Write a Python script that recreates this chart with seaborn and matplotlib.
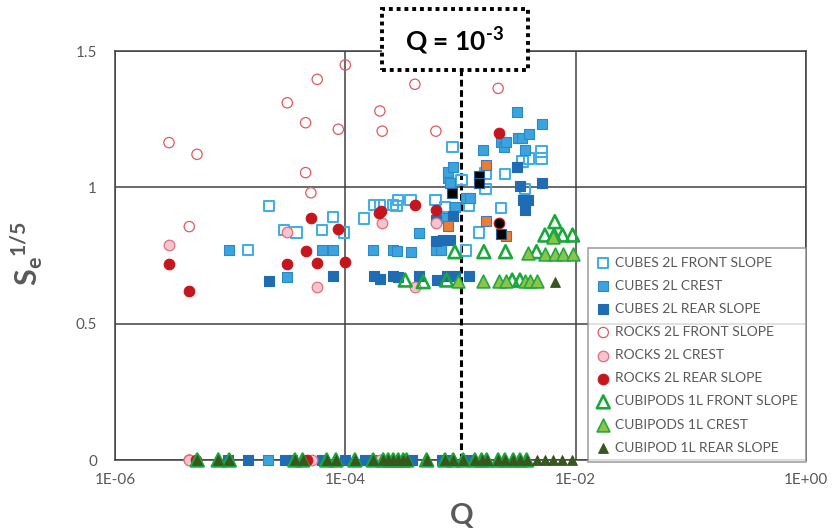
import numpy as np
import pandas as pd
import matplotlib
matplotlib.use("Agg")
import matplotlib.pyplot as plt
from matplotlib.patches import Rectangle
import seaborn as sns

# ---- data: log10(Q) and Se^(1/5) per test series ----
cubes_front_logq = [-4.843, -4.663, -4.530, -4.423, -4.200, -4.105, -4.012, -3.836, -3.749, -3.700,
                    -3.584, -3.555, -3.541, -3.434, -3.217, -3.135, -3.069, -2.991, -2.950, -2.927,
                    -2.838, -2.782, -2.782, -2.649, -2.615, -2.461, -2.441, -2.406, -2.296, -2.296]
cubes_front_se = [0.769, 0.931, 0.843, 0.834, 0.843, 0.892, 0.834, 0.886, 0.935, 0.935,
                  0.935, 0.931, 0.953, 0.953, 0.953, 0.929, 1.147, 1.027, 0.768, 0.931,
                  0.834, 0.994, 1.051, 0.925, 1.049, 1.095, 0.994, 1.106, 1.131, 1.106]

cubes_crest_logq = [-5.010, -4.669, -4.504, -4.200, -4.105, -3.758, -3.584, -3.549, -3.434, -3.358,
                    -3.217, -3.165, -3.144, -3.110, -3.107, -3.095, -3.069, -3.049, -2.948, -2.920,
                    -2.806, -2.649, -2.618, -2.609, -2.513, -2.499, -2.470, -2.438, -2.409, -2.296]
cubes_crest_se = [0.769, 0.0, 0.670, 0.769, 0.769, 0.770, 0.770, 0.768, 0.762, 0.834,
                  0.770, 0.770, 0.886, 1.033, 1.057, 1.015, 1.073, 0.927, 0.960, 0.960,
                  1.136, 1.167, 1.149, 1.167, 1.276, 1.180, 1.180, 1.136, 1.194, 1.232]

cubes_rear_logq = [-5.016, -4.843, -4.663, -4.524, -4.466, -4.206, -4.105, -4.003, -3.830, -3.772,
                   -3.749, -3.700, -3.584, -3.541, -3.424, -3.358, -3.217, -3.217, -3.208, -3.164,
                   -3.150, -3.121, -3.107, -3.092, -3.069, -3.049, -2.933, -2.927, -2.513, -2.484,
                   -2.461, -2.441, -2.412, -2.296]
cubes_rear_se = [0.0, 0.0, 0.658, 0.0, 0.0, 0.0, 0.676, 0.0, 0.0, 0.0,
                 0.676, 0.664, 0.676, 0.672, 0.0, 0.676, 0.880, 0.804, 0.660, 0.0,
                 0.807, 0.676, 0.0, 0.807, 0.895, 0.676, 0.0, 0.676, 1.073, 1.006,
                 0.953, 0.917, 0.953, 1.015]

rocks_front_logq = [-5.531, -5.355, -5.355, -5.288, -4.504, -4.345, -4.345, -4.299, -4.244, -4.061,
                    -4.000, -3.700, -3.680, -3.396, -3.214, -2.673]
rocks_front_se = [1.164, 0.856, 0.0, 1.121, 1.310, 1.237, 1.054, 0.980, 1.396, 1.213,
                  1.449, 1.280, 1.206, 1.378, 1.206, 1.363]

rocks_crest_logq = [-5.531, -5.355, -4.504, -4.293, -4.244, -3.700, -3.682, -3.396, -3.211]
rocks_crest_se = [0.790, 0.0, 0.837, 0.0, 0.633, 0.0, 0.870, 0.636, 0.870]

rocks_rear_logq = [-5.531, -5.355, -5.297, -4.504, -4.345, -4.336, -4.299, -4.244, -4.061, -4.000,
                   -3.706, -3.691, -3.393, -3.211, -2.669]
rocks_rear_se = [0.717, 0.621, 0.0, 0.717, 0.765, 0.0, 0.886, 0.724, 0.847, 0.725,
                 0.905, 0.914, 0.934, 0.918, 1.198]

# cubipod tests with no damage (Se = 0)
cubipod_zero_logq = [-5.286, -5.103, -5.008, -4.438, -4.371, -4.162, -4.082, -3.917, -3.758, -3.671,
                     -3.628, -3.584, -3.541, -3.497, -3.468, -3.294, -3.135, -3.063, -2.977, -2.875,
                     -2.817, -2.773, -2.673, -2.615, -2.542, -2.484, -2.426]

cubipods_front_logq = [-3.480, -3.324, -3.121, -3.049, -2.797, -2.609, -2.551, -2.484, -2.340, -2.267,
                       -2.187, -2.181, -2.114, -2.027] + cubipod_zero_logq
cubipods_front_se = [0.660, 0.654, 0.660, 0.764, 0.764, 0.764, 0.660, 0.660, 0.764, 0.825,
                     0.825, 0.874, 0.825, 0.825] + [0.0] * len(cubipod_zero_logq)

cubipods_crest_logq = [-3.020, -2.803, -2.664, -2.606, -2.441, -2.412, -2.398, -2.340, -2.267, -2.195,
                       -2.181, -2.109, -2.027]
cubipods_crest_se = [0.657, 0.657, 0.657, 0.657, 0.657, 0.758, 0.657, 0.657, 0.755, 0.819,
                     0.755, 0.755, 0.755]

cubipod_rear_logq = [-2.181] + cubipod_zero_logq + [-2.339, -2.267, -2.195, -2.122, -2.036]
cubipod_rear_se = [0.652] + [0.0] * len(cubipod_zero_logq) + [0.0, 0.0, 0.0, 0.0, 0.0]

# highlighted tests (not in the legend)
orange_logq = [-3.112, -2.782, -2.782, -2.609]
orange_se = [0.858, 1.082, 0.876, 0.823]
black_sq_logq = [-3.078, -2.838, -2.838, -2.649]
black_sq_se = [0.980, 1.041, 1.015, 0.829]
black_ci_logq = [-2.669]
black_ci_se = [0.871]

x_ticks = [1e-6, 1e-4, 1e-2, 1.0]
x_tick_labels = ["1E-06", "1E-04", "1E-02", "1E+00"]
y_ticks = [0, 0.5, 1, 1.5]
y_tick_labels = ["0", "0.5", "1", "1.5"]
q_threshold = 1e-3

# ---- long-form table ----
series = [
    ("CUBES 2L FRONT SLOPE", cubes_front_logq, cubes_front_se),
    ("CUBES 2L CREST", cubes_crest_logq, cubes_crest_se),
    ("CUBES 2L REAR SLOPE", cubes_rear_logq, cubes_rear_se),
    ("ROCKS 2L FRONT SLOPE", rocks_front_logq, rocks_front_se),
    ("ROCKS 2L CREST", rocks_crest_logq, rocks_crest_se),
    ("ROCKS 2L REAR SLOPE", rocks_rear_logq, rocks_rear_se),
    ("CUBIPODS 1L FRONT SLOPE", cubipods_front_logq, cubipods_front_se),
    ("CUBIPODS 1L CREST", cubipods_crest_logq, cubipods_crest_se),
    ("CUBIPOD 1L REAR SLOPE", cubipod_rear_logq, cubipod_rear_se),
    ("orange", orange_logq, orange_se),
    ("black_sq", black_sq_logq, black_sq_se),
    ("black_ci", black_ci_logq, black_ci_se),
]
frames = [pd.DataFrame({"series": name, "Q": 10.0 ** np.array(lq), "Se": se})
          for name, lq, se in series]
df = pd.concat(frames, ignore_index=True)

# marker, size, face, edge, linewidth, in legend
styles = {
    "CUBES 2L FRONT SLOPE": ("s", 55, "none", "#45ADE6", 1.5, True),
    "CUBES 2L CREST": ("s", 58, "#3BA3DE", "#2A8AC8", 0.8, True),
    "CUBES 2L REAR SLOPE": ("s", 58, "#1F6CB5", "#1F6CB5", 0.8, True),
    "ROCKS 2L FRONT SLOPE": ("o", 55, "none", "#DE5A5F", 0.9, True),
    "ROCKS 2L CREST": ("o", 58, "#F7C3CF", "#E0707F", 0.9, True),
    "ROCKS 2L REAR SLOPE": ("o", 58, "#C4161C", "#C4161C", 0.8, True),
    "CUBIPODS 1L FRONT SLOPE": ("^", 85, "none", "#19A83B", 1.9, True),
    "CUBIPODS 1L CREST": ("^", 85, "#8CC34B", "#22A83E", 1.2, True),
    "CUBIPOD 1L REAR SLOPE": ("^", 48, "#38571F", "#38571F", 0.8, True),
    "orange": ("s", 58, "#ED7D31", "#3C7BC2", 0.8, False),
    "black_sq": ("s", 58, "#050505", "#2A5FA0", 0.8, False),
    "black_ci": ("o", 58, "#050505", "#C4161C", 0.8, False),
}

# ---- figure ----
sns.set_theme(style="white")
plt.rcParams["font.family"] = ["Lato", "DejaVu Sans"]
plt.rcParams["mathtext.fontset"] = "custom"
plt.rcParams["mathtext.rm"] = "Lato:bold"
plt.rcParams["mathtext.it"] = "Lato:bold"
plt.rcParams["mathtext.bf"] = "Lato:bold"
plt.rcParams["mathtext.default"] = "rm"

W, H = 835, 531
fig = plt.figure(figsize=(W / 100, H / 100), dpi=100)
fig.patch.set_facecolor("white")
ax = fig.add_axes([115 / W, 1 - 460 / H, 691 / W, 409 / H])
ax.set_facecolor("white")

for name, _, _ in series:
    m, size, face, edge, lw, in_leg = styles[name]
    sub = df[df["series"] == name]
    sns.scatterplot(data=sub, x="Q", y="Se", ax=ax, marker=m, s=size,
                    color=face, edgecolor=edge, linewidth=lw,
                    label=name if in_leg else "_nolegend_",
                    legend=False, clip_on=False, zorder=4)

ax.set_xscale("log")
ax.set_xlim(1e-6, 1.0)
ax.set_ylim(0, 1.5)
ax.set_xticks(x_ticks)
ax.set_xticklabels(x_tick_labels)
ax.xaxis.set_minor_locator(matplotlib.ticker.NullLocator())
ax.set_yticks(y_ticks)
ax.set_yticklabels(y_tick_labels)
ax.set_xlabel("")
ax.set_ylabel("")
ax.tick_params(axis="both", length=0, labelsize=11, labelcolor="#595959")
ax.tick_params(axis="y", pad=13)
ax.tick_params(axis="x", pad=9)

ax.grid(True, which="major", color="#404040", linewidth=1.1)
ax.set_axisbelow(True)
for sp in ax.spines.values():
    sp.set_visible(True)
    sp.set_color("#404040")
    sp.set_linewidth(1.1)

# threshold line at Q = 1e-3
ax.axvline(q_threshold, ymin=0, ymax=(460 - 70) / 409, color="black",
           linewidth=2.2, linestyle=(0, (2.2, 1.2)), zorder=3)

# dotted label box
box = Rectangle((382 / W, 1 - 70 / H), 146 / W, 61 / H, transform=fig.transFigure,
                facecolor="white", edgecolor="black", linewidth=2.8,
                linestyle=(0, (1, 1)), zorder=5)
fig.add_artist(box)
fig.text(455 / W, 1 - 41 / H, r"Q = 10$^{\text{-}3}$", ha="center", va="center",
         fontsize=19, fontweight="bold", color="black", zorder=6)

# axis titles
fig.text(27 / W, 1 - 253 / H, "$S_e$$^{1/5}$", rotation=90, ha="center", va="center",
         fontsize=22, color="#595959")
fig.text(462 / W, 1 - 516 / H, "Q", ha="center", va="center",
         fontsize=21, fontweight="bold", color="#595959")

leg = ax.legend(loc="lower left", bbox_to_anchor=((588 - 115) / 691, -0.005),
                frameon=True, fancybox=False, fontsize=10, labelcolor="#595959",
                handletextpad=0.35, handlelength=1.0, labelspacing=0.8,
                borderpad=0.6, borderaxespad=0)
leg.get_frame().set_edgecolor("#8c8c8c")
leg.get_frame().set_linewidth(1.2)
leg.set_zorder(6)

fig.savefig("out.png", dpi=100, facecolor="white")
